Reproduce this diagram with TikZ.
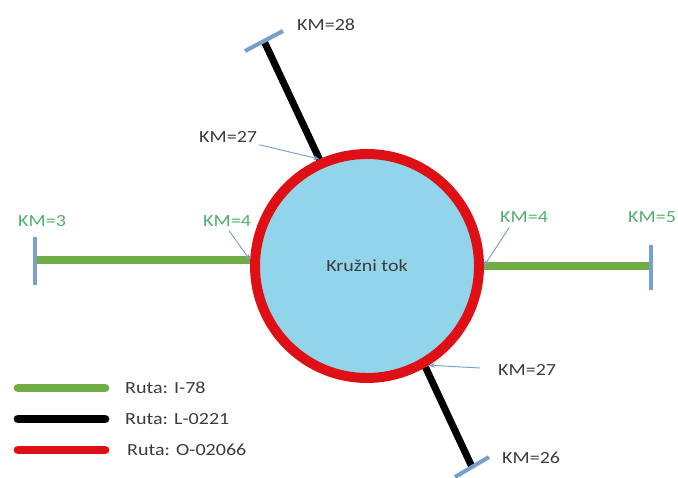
\documentclass[tikz,border=0pt]{standalone}
\usepackage{fontspec}
\setmainfont{Carlito}[FakeStretch=1.18]
\usepackage{xcolor}
\usepackage{tikz}
\usetikzlibrary{arrows.meta,positioning,calc}

\definecolor{roadgreen}{RGB}{112,173,71}
\definecolor{kmgreen}{RGB}{80,176,110}
\definecolor{tickblue}{RGB}{120,160,206}
\definecolor{ringred}{RGB}{222,16,22}
\definecolor{poolblue}{RGB}{146,212,234}
\definecolor{labelgrey}{RGB}{60,60,60}

\begin{document}
\begin{tikzpicture}[x=0.03cm, y=-0.03cm,
    km/.style={font=\fontsize{14.5}{16}\selectfont, text=kmgreen, inner sep=0pt},
    kmgrey/.style={km, text=labelgrey},
    road/.style={line width=7pt},
    tickmark/.style={tickblue, line width=3.5pt},
    pointer/.style={-{Stealth[length=5pt,width=4pt]}, tickblue, line width=0.8pt},
    legline/.style={line width=7.5pt, line cap=round},
    legtext/.style={font=\fontsize{14.5}{16}\selectfont, text=labelgrey, anchor=west, inner sep=0pt}
]
    \useasboundingbox (0,0) rectangle (678,477);

    % Roundabout
    \node[circle, draw=ringred, line width=8.5pt, fill=poolblue, minimum size=6.72cm,
          font=\fontsize{14.5}{16}\selectfont, text=labelgrey] (rb) at (367,266) {Kružni tok};

    % Route I-78 (west and east)
    \coordinate (w3) at (35,260);
    \coordinate (e5) at (651,266);
    \draw[road, roadgreen] (w3) -- (w3 -| rb.west);
    \draw[road, roadgreen] (e5) -- (e5 -| rb.east);
    \draw[tickmark] (w3) ++(0,-23) -- ++(0,48);
    \draw[tickmark] (e5) ++(0,-21) -- ++(0,45);

    % Route L-0221 (north and south)
    \coordinate (n28) at (264,41);
    \coordinate (s26) at (472,467);
    \draw[road, black, line width=6pt] (rb.114) -- (n28);
    \draw[road, black, line width=6pt] (rb.-60) -- (s26);
    \draw[tickmark] (n28) ++(-19,10) -- ++(38,-20);
    \draw[tickmark] (s26) ++(-17,10) -- ++(34,-20);

    % KM labels
    \node[km, anchor=west] (km3) at (18,221) {KM=3};
    \node[km, anchor=west] (km4w) at (203,221) {KM=4};
    \node[km, anchor=west] (km4e) at (500,217) {KM=4};
    \node[km, anchor=west] (km5) at (628,217) {KM=5};
    \node[kmgrey, anchor=west] (km28) at (297,25) {KM=28};
    \node[kmgrey, anchor=west] (km27n) at (199,137) {KM=27};
    \node[kmgrey, anchor=west] (km27s) at (498,370) {KM=27};
    \node[kmgrey, anchor=west] (km26) at (502,458) {KM=26};

    % Pointers
    \draw[pointer] ($(km4w.south)+(2,4)$) -- (rb.west |- w3);
    \draw[pointer] ($(km4e.south)+(-15,5)$) -- (rb.east);
    \draw[pointer] ($(km27n.south east)+(2,2)$) -- (rb.114);
    \draw[pointer] ($(km27s.west)+(-18,-2)$) -- (rb.-58);

    % Legend
    \coordinate (lg1a) at (18,388); \coordinate (lg1b) at (105,388);
    \coordinate (lg2a) at (18,419); \coordinate (lg2b) at (105,419);
    \coordinate (lg3a) at (18,450); \coordinate (lg3b) at (105,450);
    \draw[legline, roadgreen] (lg1a) -- (lg1b);
    \draw[legline, black] (lg2a) -- (lg2b);
    \draw[legline, ringred] (lg3a) -- (lg3b);
    \node[legtext] (lt1) at (125,388) {Ruta: I-78};
    \node[legtext] (lt2) at (125,419) {Ruta: L-0221};
    \node[legtext] (lt3) at (127,450) {Ruta: O-02066};
\end{tikzpicture}
\end{document}
